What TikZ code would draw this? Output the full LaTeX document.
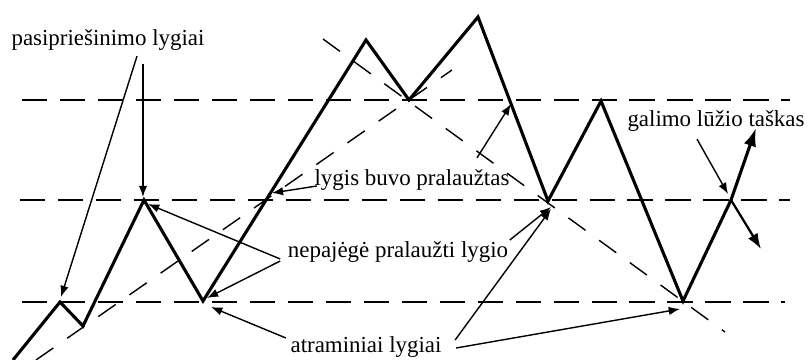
\documentclass[tikz,border=0pt]{standalone}
\usepackage{fontspec}
\setmainfont{Liberation Serif}
\usetikzlibrary{arrows.meta,calc}

\begin{document}
\begin{tikzpicture}[x=0.025cm,y=-0.025cm,
  price/.style={line width=2.2pt,line join=miter},
  level/.style={line width=1.4pt,dash pattern=on 18pt off 9pt},
  trend/.style={line width=1pt,dash pattern=on 15pt off 12pt},
  arr/.style={-{Latex[length=8pt,width=6pt]},line width=1pt},
  lbl/.style={inner sep=1pt,font=\fontsize{16.3}{19}\selectfont}]
  \useasboundingbox (0,0) rectangle (808,360);
  % price pivots
  \coordinate (p0) at (13,360);
  \coordinate (p1) at (60,302);
  \coordinate (p2) at (83,326);
  \coordinate (p3) at (144,200);
  \coordinate (p4) at (203,301);
  \coordinate (p5) at (366,40);
  \coordinate (p6) at (409,100);
  \coordinate (p7) at (478,17);
  \coordinate (p8) at (548,201);
  \coordinate (p9) at (601,101);
  \coordinate (p10) at (683,301);
  \coordinate (p11) at (731,200);
  \coordinate (up) at (756,128);
  \coordinate (down) at (761,249);
  % levels and trend lines
  \draw[level] (22,100) -- (790,100);
  \draw[level] (20,200) -- (790,200);
  \draw[level] (22,302) -- (785,302);
  \draw[trend] (36,360) -- (452,70);
  \draw[trend] (323,39) -- (725,332);
  \draw[price,-{Latex[length=13pt,width=9pt]}] (p0) -- (p1) -- (p2) -- (p3) -- (p4) -- (p5) -- (p6)
    -- (p7) -- (p8) -- (p9) -- (p10) -- (p11) -- (up);
  \draw[line width=1.6pt,-{Latex[length=11pt,width=8pt]}] (p11) -- (down);
  % labels
  \node[lbl] (pas) at (108,40) {pasipriešinimo lygiai};
  \node[lbl] (lyg) at (412,180) {lygis buvo pralaužtas};
  \node[lbl] (nep) at (398,252) {nepajėgė pralaužti lygio};
  \node[lbl] (atr) at (366,347) {atraminiai lygiai};
  \node[lbl] (gal) at (716,121) {galimo lūžio taškas};
  \draw[arr] ($(pas.south)+(29,4)$) -- ($(p1)+(1,-5)$);
  \draw[arr] ($(pas.south)+(35,12)$) -- ($(p3)+(-1,-3)$);
  \draw[arr] ($(lyg.west)+(4,6)$) -- ($(p4)!0.41!(p5)+(2,-1)$);
  \draw[arr] ($(lyg.north)+(65,-10)$) -- ($(p8)+(-37,-97)$);
  \draw[arr] ($(nep.west)+(-6,7)$) -- ($(p3)+(4,4)$);
  \draw[arr] ($(nep.west)+(-6,9)$) -- ($(p4)+(4,-3)$);
  \draw[arr] ($(nep.east)+(0,-12)$) -- ($(p8)+(3,6)$);
  \draw[arr] ($(atr.west)+(-3,-9)$) -- ($(p4)+(8,6)$);
  \draw[arr] ($(atr.east)+(12,-7)$) -- ($(p8)+(3,8)$);
  \draw[arr] ($(atr.east)+(13,1)$) -- ($(p10)+(-3,8)$);
  \draw[arr] ($(gal.south)+(-19,6)$) -- ($(p11)+(-3,-6)$);
\end{tikzpicture}
\end{document}
